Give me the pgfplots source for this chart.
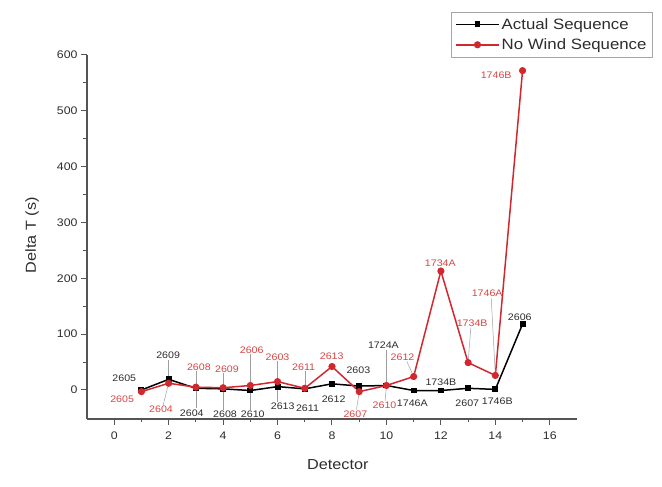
\documentclass[border=0pt]{standalone}
\usepackage{fontspec}
\setmainfont[FakeStretch=1.12]{Liberation Sans}
\usepackage{pgfplots}
\pgfplotsset{compat=1.18}
\definecolor{myred}{RGB}{208,40,46}
\definecolor{labred}{RGB}{215,70,70}
\definecolor{labblk}{RGB}{45,45,45}
\definecolor{axgray}{RGB}{85,85,85}
\tikzset{leader/.style={draw=gray!75, line width=0.5pt},
  lb/.style={font=\fontsize{9.5}{10}\selectfont, text=labblk, inner sep=0pt},
  lr/.style={font=\fontsize{9.5}{10}\selectfont, text=labred, inner sep=0pt}}
\begin{document}
\begin{tikzpicture}
\useasboundingbox (-87pt,-68pt) rectangle (575pt,419pt);
\begin{axis}[
  at={(0,0)}, anchor=south west,
  scale only axis, width=490pt, height=364pt,
  xmin=-1, xmax=17, ymin=-52, ymax=600,
  axis x line*=bottom, axis y line*=left,
  axis line style={axgray, line width=1.1pt},
  xtick={0,2,...,16}, ytick={0,100,...,600},
  minor x tick num=1, minor y tick num=1,
  tick align=outside,
  major tick length=6pt, minor tick length=3.5pt,
  every tick/.style={axgray, line width=1pt},
  tick label style={font=\fontsize{11}{13}\selectfont, text=labblk},
  xticklabel style={yshift=-3pt},
  /pgf/number format/assume math mode=true,
  xlabel={Detector}, ylabel={Delta T (s)},
  label style={font=\fontsize{14.5}{16}\selectfont, text=labblk},
  xlabel style={at={(axis description cs:0.512,-0.126)}, anchor=center},
  ylabel style={at={(axis description cs:-0.112,0.505)}, anchor=center},
  clip=false,
  legend style={at={(axis description cs:0.743,1.118)}, anchor=north west,
    draw=gray!70, font=\fontsize{15}{18}\selectfont,
    text=labblk, inner xsep=4pt, inner ysep=4pt, row sep=4pt, cells={anchor=west},
    legend cell align=left},
  legend image code/.code={
    \draw[#1, mark=none, line width=1.8pt] (0cm,0cm) -- (1.5cm,0cm);
    \draw[#1] plot[only marks] coordinates {(0.75cm,0cm)};},
]
\addplot[black, line width=1.5pt, mark=square*, mark size=2.2pt] coordinates {
(1,0) (2,19) (3,3) (4,2) (5,-1) (6,6) (7,2) (8,11) (9,7) (10,8)
(11,-1) (12,-1) (13,3) (14,1) (15,118)};
\addlegendentry{Actual Sequence}
\addplot[myred, line width=1.5pt, mark=*, mark size=2.8pt] coordinates {
(1,-3) (2,12) (3,5) (4,4) (5,8) (6,15) (7,3) (8,42) (9,-3) (10,8)
(11,24) (12,213) (13,49) (14,26) (15,572)};
\addlegendentry{No Wind Sequence}
% leaders
\draw[leader] (axis cs:2,19) -- (axis cs:2,54);
\draw[leader] (axis cs:3,3) -- (axis cs:3,-33);
\draw[leader] (axis cs:4,2) -- (axis cs:4,-35);
\draw[leader] (axis cs:5,-1) -- (axis cs:5,-35);
\draw[leader] (axis cs:6,6) -- (axis cs:6,-21);
\draw[leader] (axis cs:10,8) -- (axis cs:10,72);
\draw[leader] (axis cs:2,12) -- (axis cs:1.8,-27);
\draw[leader] (axis cs:3,5) -- (axis cs:3,34);
\draw[leader] (axis cs:4,4) -- (axis cs:4,30);
\draw[leader] (axis cs:5,8) -- (axis cs:5,64);
\draw[leader] (axis cs:6,15) -- (axis cs:6,52);
\draw[leader] (axis cs:7,3) -- (axis cs:7,34);
\draw[leader] (axis cs:9,-3) -- (axis cs:8.9,-35);
\draw[leader] (axis cs:10,8) -- (axis cs:9.95,-20);
\draw[leader] (axis cs:11,24) -- (axis cs:10.75,51);
\draw[leader] (axis cs:13,49) -- (axis cs:13.1,112);
\draw[leader] (axis cs:14,26) -- (axis cs:13.85,164);
% black labels
\node[lb] at (axis cs:0.37,21) {2605};
\node[lb] at (axis cs:1.98,62) {2609};
\node[lb] at (axis cs:2.85,-41) {2604};
\node[lb] at (axis cs:4.07,-43) {2608};
\node[lb] at (axis cs:5.09,-43) {2610};
\node[lb] at (axis cs:6.19,-29) {2613};
\node[lb] at (axis cs:7.1,-32) {2611};
\node[lb] at (axis cs:8.06,-16) {2612};
\node[lb] at (axis cs:8.97,36) {2603};
\node[lb] at (axis cs:9.89,80) {1724A};
\node[lb] at (axis cs:10.95,-23) {1746A};
\node[lb] at (axis cs:12.0,14) {1734B};
\node[lb] at (axis cs:12.97,-23) {2607};
\node[lb] at (axis cs:14.07,-20) {1746B};
\node[lb] at (axis cs:14.9,130) {2606};
% red labels
\node[lr] at (axis cs:0.29,-16) {2605};
\node[lr] at (axis cs:1.72,-34) {2604};
\node[lr] at (axis cs:3.11,41) {2608};
\node[lr] at (axis cs:4.14,37) {2609};
\node[lr] at (axis cs:5.05,71) {2606};
\node[lr] at (axis cs:6.0,59) {2603};
\node[lr] at (axis cs:6.96,41) {2611};
\node[lr] at (axis cs:7.99,61) {2613};
\node[lr] at (axis cs:8.86,-43) {2607};
\node[lr] at (axis cs:9.93,-27) {2610};
\node[lr] at (axis cs:10.59,59) {2612};
\node[lr] at (axis cs:11.98,227) {1734A};
\node[lr] at (axis cs:13.15,120) {1734B};
\node[lr] at (axis cs:13.7,173) {1746A};
\node[lr] at (axis cs:14.03,563) {1746B};
\end{axis}
\end{tikzpicture}
\end{document}
